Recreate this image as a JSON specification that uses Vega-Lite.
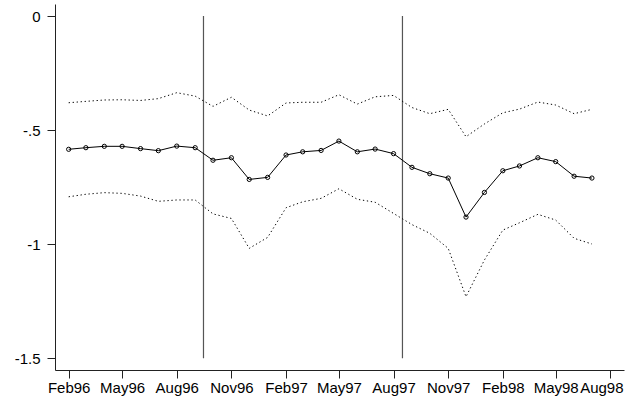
{
  "$schema": "https://vega.github.io/schema/vega-lite/v6.json",
  "autosize": {"type": "none"},
  "padding": {"left": 55, "top": 4, "right": 18, "bottom": 30},
  "width": 569,
  "height": 366,
  "background": "white",
  "config": {
    "view": {"stroke": null},
    "font": "Liberation Sans",
    "axis": {
      "grid": false,
      "domainColor": "#222222",
      "tickColor": "#222222",
      "labelColor": "#000000",
      "labelFont": "Liberation Sans",
      "labelFontSize": 15,
      "tickSize": 8,
      "domainWidth": 1,
      "tickWidth": 1,
      "title": null
    }
  },
  "datasets": {
    "series": [
      {"date": "1996-02-01", "est": -0.584, "hi": -0.380, "lo": -0.792},
      {"date": "1996-03-01", "est": -0.577, "hi": -0.374, "lo": -0.781},
      {"date": "1996-04-01", "est": -0.571, "hi": -0.368, "lo": -0.774},
      {"date": "1996-05-01", "est": -0.571, "hi": -0.367, "lo": -0.777},
      {"date": "1996-06-01", "est": -0.581, "hi": -0.370, "lo": -0.789},
      {"date": "1996-07-01", "est": -0.590, "hi": -0.362, "lo": -0.812},
      {"date": "1996-08-01", "est": -0.570, "hi": -0.336, "lo": -0.806},
      {"date": "1996-09-01", "est": -0.577, "hi": -0.351, "lo": -0.806},
      {"date": "1996-10-01", "est": -0.632, "hi": -0.396, "lo": -0.867},
      {"date": "1996-11-01", "est": -0.621, "hi": -0.356, "lo": -0.887},
      {"date": "1996-12-01", "est": -0.716, "hi": -0.412, "lo": -1.018},
      {"date": "1997-01-01", "est": -0.707, "hi": -0.438, "lo": -0.970},
      {"date": "1997-02-01", "est": -0.609, "hi": -0.381, "lo": -0.840},
      {"date": "1997-03-01", "est": -0.595, "hi": -0.378, "lo": -0.814},
      {"date": "1997-04-01", "est": -0.589, "hi": -0.378, "lo": -0.799},
      {"date": "1997-05-01", "est": -0.548, "hi": -0.345, "lo": -0.757},
      {"date": "1997-06-01", "est": -0.595, "hi": -0.386, "lo": -0.803},
      {"date": "1997-07-01", "est": -0.583, "hi": -0.354, "lo": -0.816},
      {"date": "1997-08-01", "est": -0.603, "hi": -0.348, "lo": -0.865},
      {"date": "1997-09-01", "est": -0.663, "hi": -0.401, "lo": -0.914},
      {"date": "1997-10-01", "est": -0.691, "hi": -0.428, "lo": -0.952},
      {"date": "1997-11-01", "est": -0.710, "hi": -0.409, "lo": -1.018},
      {"date": "1997-12-01", "est": -0.881, "hi": -0.529, "lo": -1.230},
      {"date": "1998-01-01", "est": -0.773, "hi": -0.473, "lo": -1.069},
      {"date": "1998-02-01", "est": -0.678, "hi": -0.424, "lo": -0.938},
      {"date": "1998-03-01", "est": -0.657, "hi": -0.408, "lo": -0.906},
      {"date": "1998-04-01", "est": -0.621, "hi": -0.377, "lo": -0.869},
      {"date": "1998-05-01", "est": -0.638, "hi": -0.390, "lo": -0.894},
      {"date": "1998-06-01", "est": -0.702, "hi": -0.428, "lo": -0.974},
      {"date": "1998-07-01", "est": -0.710, "hi": -0.409, "lo": -0.999}
    ],
    "events": [
      {"date": "1996-09-15"},
      {"date": "1997-08-16"}
    ]
  },
  "encoding": {
    "x": {
      "field": "date",
      "type": "temporal",
      "scale": {
        "type": "utc",
        "domain": [
          {"year": 1996, "month": 1, "date": 9, "utc": true},
          {"year": 1998, "month": 8, "date": 24, "utc": true}
        ],
        "nice": false
      },
      "axis": {
        "values": [
          {"year": 1996, "month": 2, "date": 1, "utc": true},
          {"year": 1996, "month": 5, "date": 1, "utc": true},
          {"year": 1996, "month": 8, "date": 1, "utc": true},
          {"year": 1996, "month": 11, "date": 1, "utc": true},
          {"year": 1997, "month": 2, "date": 1, "utc": true},
          {"year": 1997, "month": 5, "date": 1, "utc": true},
          {"year": 1997, "month": 8, "date": 1, "utc": true},
          {"year": 1997, "month": 11, "date": 1, "utc": true},
          {"year": 1998, "month": 2, "date": 1, "utc": true},
          {"year": 1998, "month": 5, "date": 1, "utc": true},
          {"year": 1998, "month": 8, "date": 1, "utc": true}
        ],
        "labelExpr": "utcFormat(datum.value, '%b%y')",
        "labelOverlap": false,
        "labelFlush": false,
        "labelBound": false,
        "labelPadding": 2,
        "labelOffset": {
          "condition": {"test": "utcyear(datum.value) == 1998 && utcmonth(datum.value) == 7", "value": -9},
          "value": 0
        }
      }
    }
  },
  "layer": [
    {
      "data": {"name": "events"},
      "mark": {"type": "rule", "color": "#555555", "strokeWidth": 1.2},
      "encoding": {
        "x": {"field": "date", "type": "temporal"},
        "y": {"datum": 0, "type": "quantitative"},
        "y2": {"datum": -1.5}
      }
    },
    {
      "data": {"name": "series"},
      "mark": {"type": "line", "color": "#000000", "strokeWidth": 1, "strokeDash": [1.3, 2.7]},
      "encoding": {
        "y": {"field": "hi", "type": "quantitative"}
      }
    },
    {
      "data": {"name": "series"},
      "mark": {"type": "line", "color": "#000000", "strokeWidth": 1, "strokeDash": [1.3, 2.7]},
      "encoding": {
        "y": {"field": "lo", "type": "quantitative"}
      }
    },
    {
      "data": {"name": "series"},
      "mark": {"type": "line", "color": "#000000", "strokeWidth": 1},
      "encoding": {
        "y": {
          "field": "est",
          "type": "quantitative",
          "scale": {"domain": [-1.551, 0.0526], "nice": false, "zero": false},
          "axis": {
            "values": [0, -0.5, -1, -1.5],
            "labelExpr": "datum.value == 0 ? '0' : datum.value == -0.5 ? '-.5' : datum.value == -1 ? '-1' : '-1.5'",
            "labelPadding": 7,
            "labelBaseline": "middle"
          }
        }
      }
    },
    {
      "data": {"name": "series"},
      "mark": {"type": "point", "shape": "circle", "filled": false, "stroke": "#000000", "strokeWidth": 1, "size": 18, "opacity": 1},
      "encoding": {
        "y": {"field": "est", "type": "quantitative"}
      }
    }
  ],
  "resolve": {"scale": {"y": "shared"}}
}
